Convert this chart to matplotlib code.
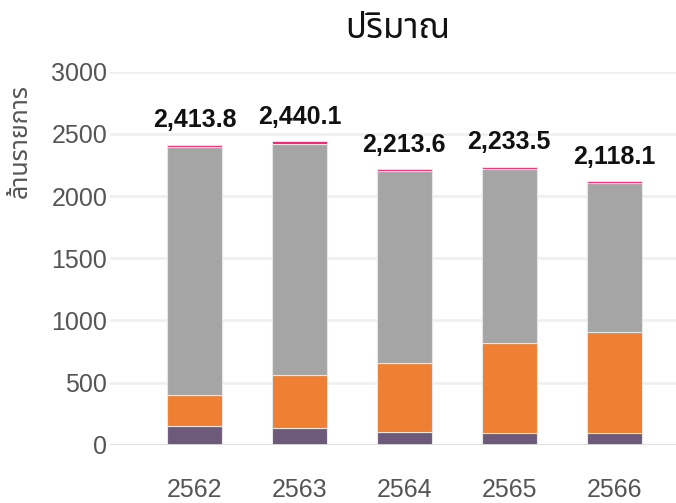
import matplotlib
matplotlib.use("Agg")
import matplotlib.pyplot as plt
import numpy as np

years = ["2562", "2563", "2564", "2565", "2566"]
purple_vals = [154, 138, 105, 97, 95]
orange_vals = [243, 422, 552, 722, 811]
gray_vals = [1995, 1862, 1542, 1400, 1198]
pink_vals = [22, 18, 15, 15, 14]
totals = [2413.8, 2440.1, 2213.6, 2233.5, 2118.1]
yticks = [0, 500, 1000, 1500, 2000, 2500, 3000]
title = "ปริมาณ"
ylabel = "ล้านรายการ"

thai = ["Noto Sans Thai", "Liberation Sans", "DejaVu Sans"]
num = ["Liberation Sans", "DejaVu Sans"]

fig = plt.figure(figsize=(6.76, 5.03), dpi=100)
ax = fig.add_axes([0.1627, 0.1159, 0.8373, 0.7416])

x = np.arange(len(years))
w = 0.525
colors = ["#6D5A7A", "#EE7F33", "#A5A5A5", "#FF1A6B"]
bottom = np.zeros(len(years))
for vals, c in zip([purple_vals, orange_vals, gray_vals, pink_vals], colors):
    ax.bar(x, vals, w, bottom=bottom, color=c, edgecolor="#e6e6e6", linewidth=0.8, zorder=3)
    bottom = bottom + np.array(vals)

for xi, t in zip(x, totals):
    ax.annotate(f"{t:,.1f}", (xi, t), xytext=(0, 9), textcoords="offset points",
                ha="center", va="bottom", fontsize=18, fontweight="bold",
                family=num, color="#111111")

ax.set_ylim(0, 3000)
ax.set_xlim(-0.806, 4.59)
ax.set_yticks(yticks)
ax.set_yticklabels([str(v) for v in yticks], family=num, fontsize=18, color="#555555")
ax.set_xticks(x)
ax.set_xticklabels(years, family=num, fontsize=18, color="#555555")
ax.tick_params(axis="y", length=0, pad=2)
ax.tick_params(axis="x", length=0, pad=24)
ax.grid(axis="y", color="#efefef", linewidth=1.8, zorder=0)
for s in ax.spines.values():
    s.set_visible(False)
ax.axhline(0, color="#dddddd", linewidth=2, zorder=4)

fig.text(398 / 676, 1 - 29 / 503, title, ha="center", va="center", fontsize=25,
         family=thai, color="#111111")
fig.text(20 / 676, 1 - 141 / 503, ylabel, ha="center", va="center", rotation=90,
         fontsize=18, family=thai, color="#555555")

fig.savefig("out.png", dpi=100)
